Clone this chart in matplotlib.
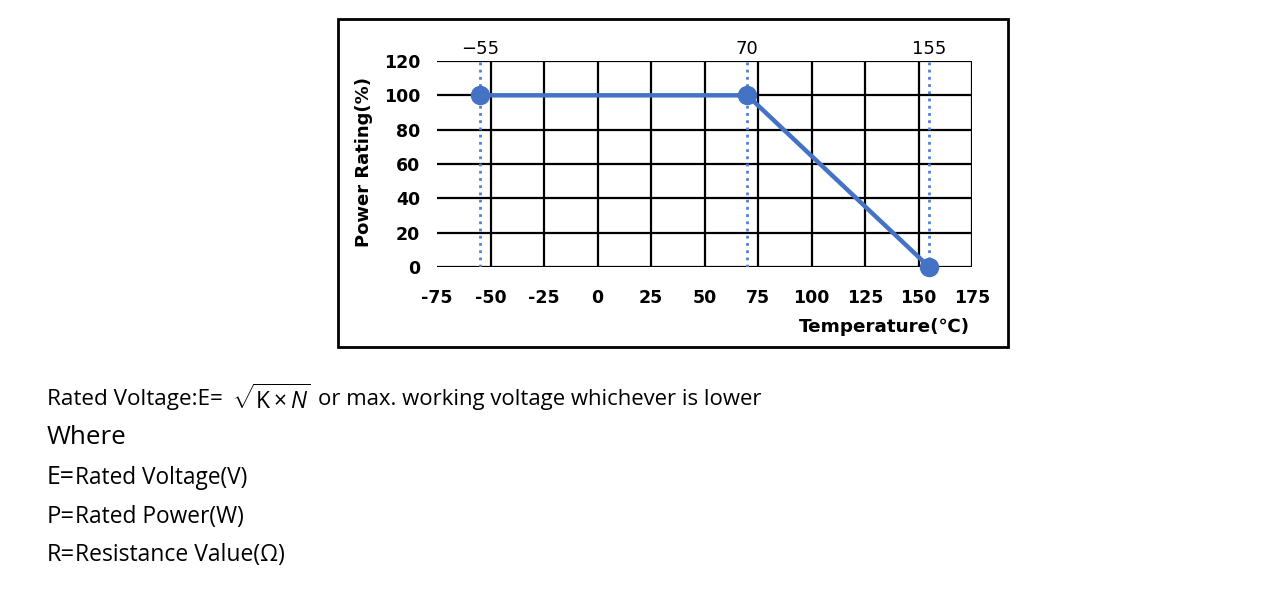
import matplotlib
matplotlib.use('Agg')
import matplotlib.pyplot as plt
from matplotlib.patches import Rectangle

plt.rcParams['font.family'] = ['DejaVu Sans']
plt.rcParams['axes.unicode_minus'] = False
plt.rcParams['mathtext.fontset'] = 'custom'
plt.rcParams['mathtext.rm'] = 'Open Sans'
plt.rcParams['mathtext.it'] = 'Open Sans:italic'

# derating curve
temps = [-55, 70, 155]
power = [100, 100, 0]
top_labels = ['\u221255', '70', '155']

x_ticks = [-75, -50, -25, 0, 25, 50, 75, 100, 125, 150, 175]
y_ticks = [0, 20, 40, 60, 80, 100, 120]

W, H = 1280, 610
fig = plt.figure(figsize=(W / 100, H / 100), dpi=100)
renderer = fig.canvas.get_renderer()

# plot area in pixels
left, right, top, bottom = 437, 972, 61, 267
ax = fig.add_axes([left / W, 1 - bottom / H, (right - left) / W, (bottom - top) / H])
ax.set_xlim(x_ticks[0], x_ticks[-1])
ax.set_ylim(y_ticks[0], y_ticks[-1])
for s in ax.spines.values():
    s.set_visible(False)

ax.set_xticks(x_ticks)
ax.set_yticks(y_ticks)
ax.tick_params(length=0, labelsize=12.5)
ax.tick_params(axis='x', pad=16)
ax.tick_params(axis='y', pad=12)
for lab in ax.get_xticklabels() + ax.get_yticklabels():
    lab.set_fontweight('bold')

ax.grid(True, color='black', linewidth=1.6)
ax.get_xgridlines()[0].set_visible(False)
ax.set_axisbelow(True)

# dotted markers of key temperatures
for t in temps:
    ax.axvline(t, color='#4f7fdc', linestyle=(0, (1, 1.6)), linewidth=2, zorder=3)

ax.plot(temps, power, color='#4472C4', linewidth=3.2, marker='o', markersize=13,
        zorder=4, clip_on=False)

# labels on top
sec = ax.secondary_xaxis('top')
sec.set_xticks(temps)
sec.set_xticklabels(top_labels)
sec.tick_params(length=0, labelsize=13, pad=2)
sec.spines['top'].set_visible(False)

ax.set_ylabel('Power Rating(%)', fontsize=13, fontweight='bold')
ax.yaxis.set_label_coords(-0.12, 0.51)
fig.text(970 / W, 1 - 327 / H, 'Temperature(\u2103)', fontsize=13.2,
         fontweight='bold', ha='right', va='center')

# outer frame
fig.add_artist(Rectangle((338 / W, 1 - 347 / H), 670 / W, 328 / H,
                         transform=fig.transFigure, fill=False,
                         edgecolor='black', linewidth=2))


# notes below the chart, sized to the width they take in the original
def note(s, x0, x1, y, family='Open Sans', va='center'):
    t = fig.text(x0 / W, 1 - y / H, s, fontsize=12, family=family, va=va)
    w = t.get_window_extent(renderer).width
    t.set_fontsize(12 * (x1 - x0) / w)
    return t


note('Rated Voltage:E=', 47, 222, 399)
note(r'$\sqrt{\mathrm{K}\times N}$', 232, 310, 400)
note('or max. working voltage whichever is lower', 318, 758, 399)
note('Where', 47, 126, 437)

rows = [('E=', 'Rated Voltage(V)', 75, 246, 477),
        ('P=', 'Rated Power(W)', 75, 243, 516),
        ('R=', 'Resistance Value(\u03a9)', 75, 284, 554)]
for big, small, xs, xe, y in rows:
    note(big, 47, 75, y + 7, va='baseline')
    note(small, xs, xe, y + 7, va='baseline')

fig.savefig('out.png', dpi=100)
